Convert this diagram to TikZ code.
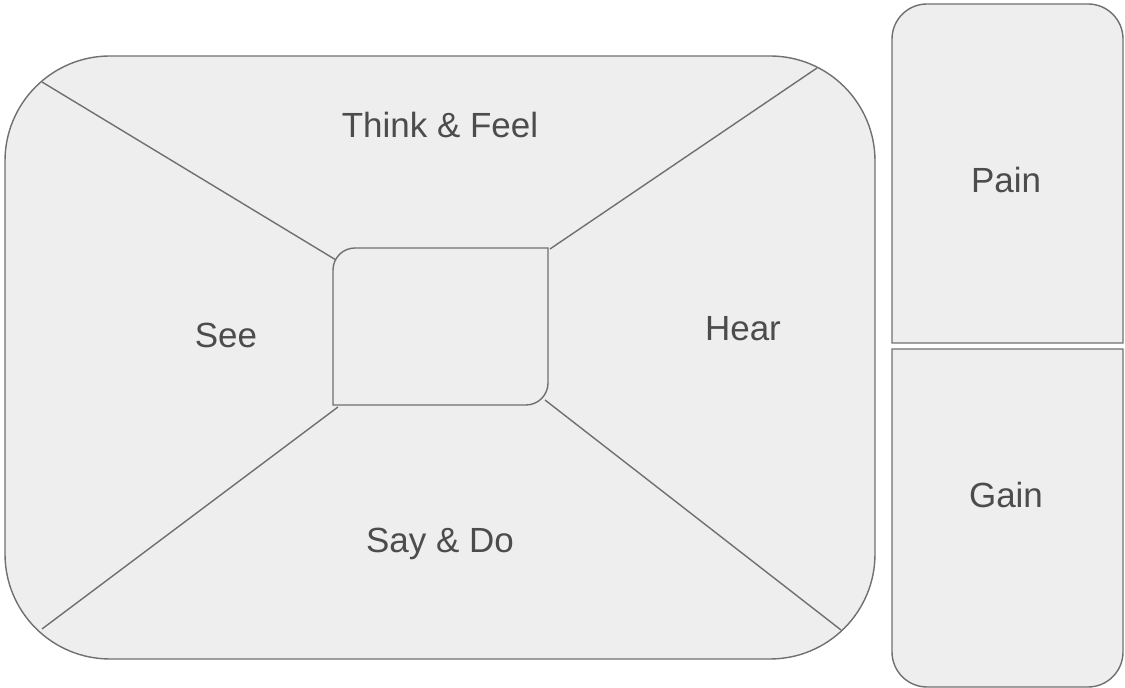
\documentclass[tikz,border=0pt]{standalone}
\usepackage{fontspec}
\setmainfont{Liberation Sans}
\usepackage{tikz}
\definecolor{panelFill}{HTML}{EEEEEE}
\definecolor{panelLine}{HTML}{707070}
\definecolor{labelGray}{HTML}{4C4C4C}
\newcommand{\quadrantLines}{%%
  %% Lines from the corners of the centre box to the outer corners.
  \draw[lineStyle] (tlIn) -- (tlOut);
  \draw[lineStyle] (trIn) -- (trOut);
  \draw[lineStyle] (blIn) -- (blOut);
  \draw[lineStyle] (brIn) -- (brOut);
}
\newcommand{\centreBox}{%%
  %% The centre box, rounded at top left and bottom right only.
  \draw[boxStyle] (333,283) -- (333,418) arc[start angle=180,end angle=90,radius=22]
    -- (548,440) -- (548,305) arc[start angle=0,end angle=-90,radius=22] -- cycle;
}
\begin{document}
\begin{tikzpicture}[%%
  x=0.02cm,y=0.02cm,%%
  boxStyle/.style={draw=panelLine,fill=panelFill,line width=0.8pt},%%
  lineStyle/.style={-,draw=panelLine,line width=0.8pt},%%
  labelStyle/.style={anchor=base,text=labelGray,font=\fontsize{19.9}{24}\selectfont},%%
]
\useasboundingbox (0,0) rectangle (1125,688);
%%
%%
%% The corner points of the lines.
\coordinate (tlIn) at (336,428);
\coordinate (tlOut) at (42,606);
\coordinate (trIn) at (550,439);
\coordinate (trOut) at (817,620);
\coordinate (blIn) at (338,281);
\coordinate (blOut) at (42,59);
\coordinate (brIn) at (545,288);
\coordinate (brOut) at (841,58);
%%
%%
%% The outer map.
\draw[boxStyle,rounded corners=2.1cm] (5,29) rectangle (875,632);
\quadrantLines
\centreBox
%% Pain and gain panels.
\draw[boxStyle] (892,345) -- (892,649) arc[start angle=180,end angle=90,radius=35]
  -- (1088,684) arc[start angle=90,end angle=0,radius=35] -- (1123,345) -- cycle;
\draw[boxStyle] (892,339) -- (892,36) arc[start angle=180,end angle=270,radius=35]
  -- (1088,1) arc[start angle=270,end angle=360,radius=35] -- (1123,339) -- cycle;
%% The labels.
\node[labelStyle] (thinkFeel) at (440,550) {Think \& Feel};
\node[labelStyle] (see) at (226,340) {See};
\node[labelStyle] (hear) at (743,347) {Hear};
\node[labelStyle] (sayDo) at (440,135) {Say \& Do};
\node[labelStyle] (pain) at (1006,495) {Pain};
\node[labelStyle] (gain) at (1006,180) {Gain};
\end{tikzpicture}
\end{document}
